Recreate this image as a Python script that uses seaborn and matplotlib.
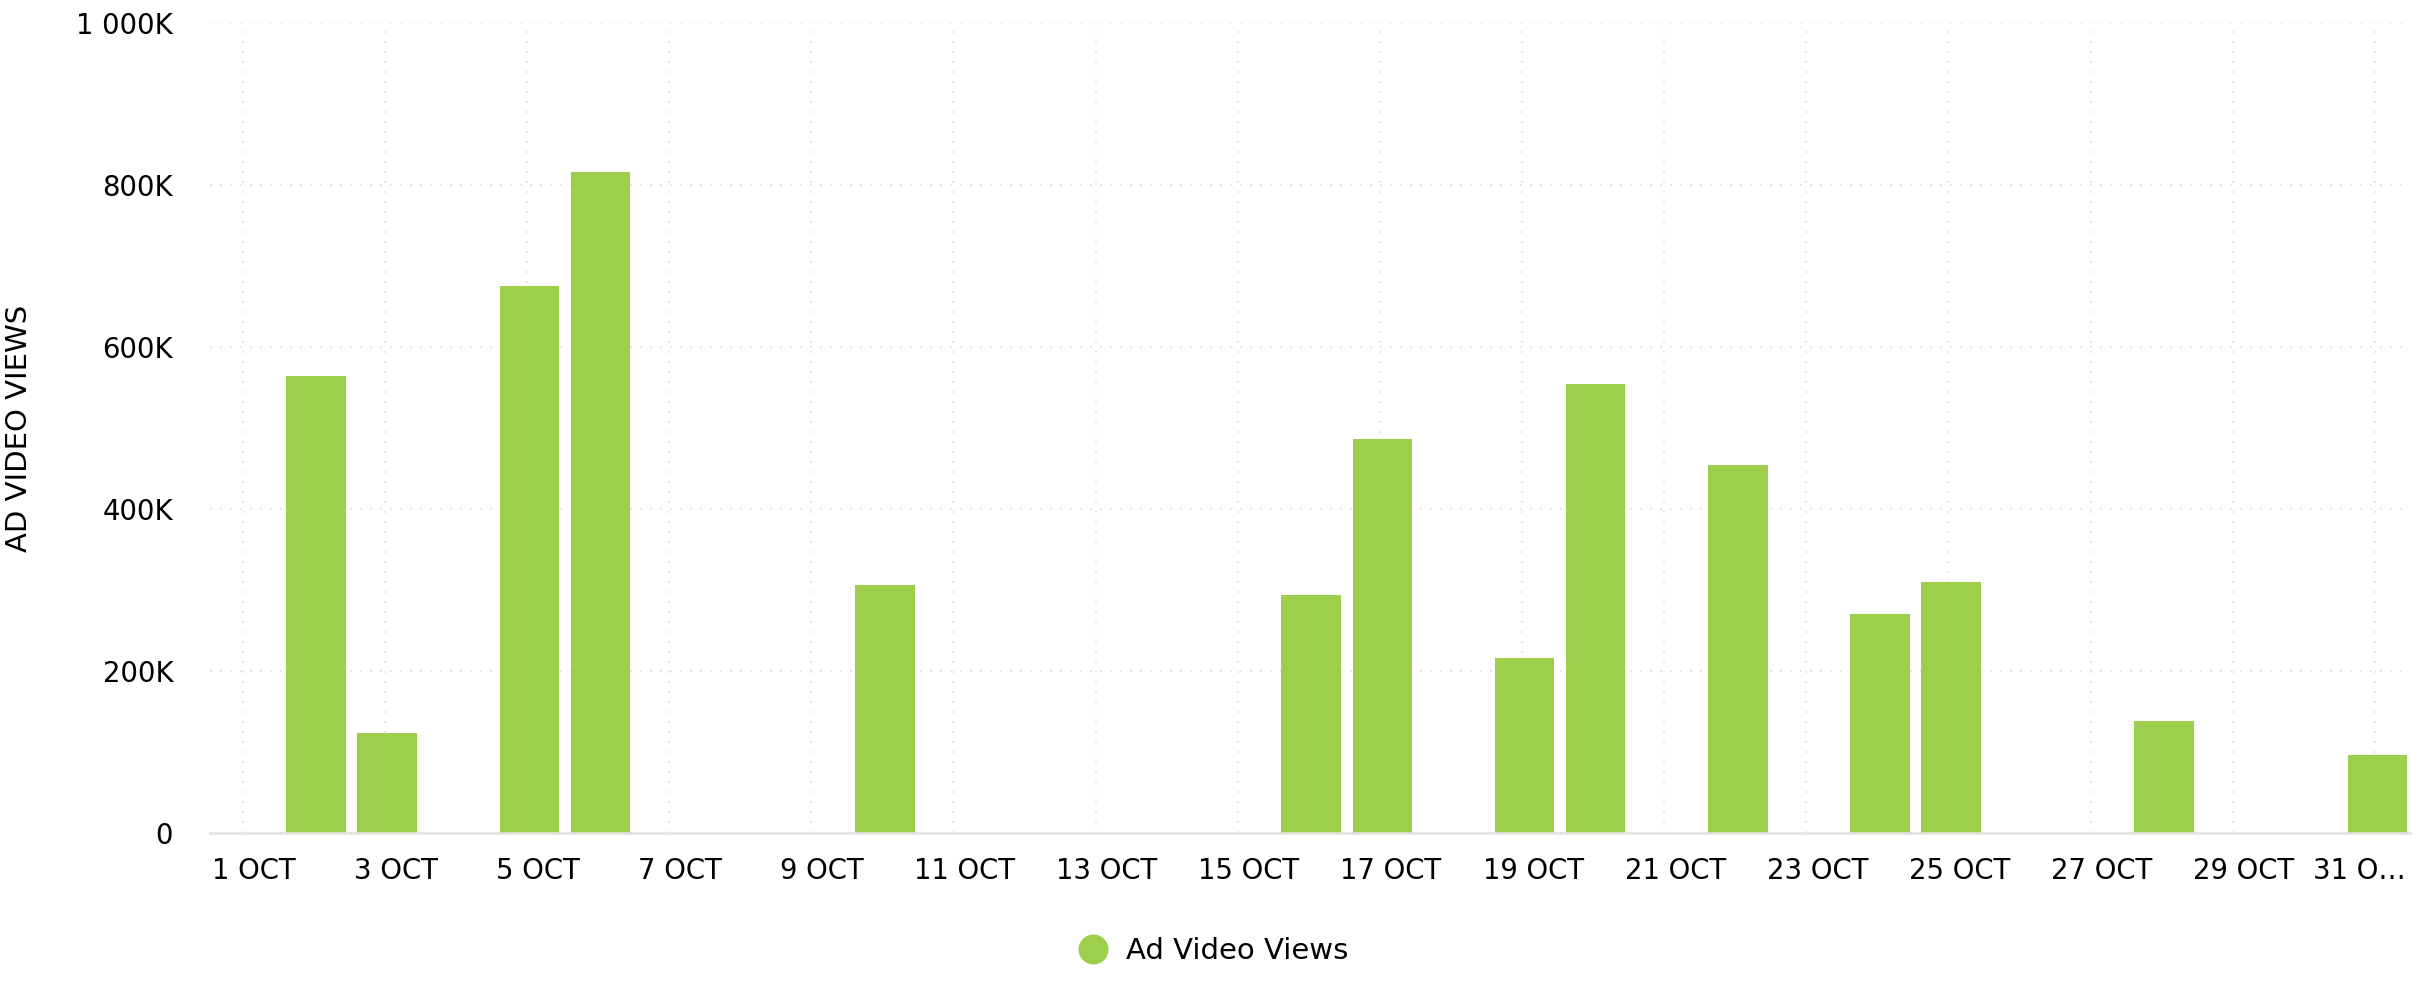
import pandas as pd
import matplotlib
matplotlib.use("Agg")
import matplotlib.pyplot as plt
import matplotlib.transforms as mtransforms
from matplotlib.lines import Line2D
from matplotlib.ticker import FuncFormatter
import seaborn as sns

# ===============================
# DATA
# ===============================
days = list(range(1, 32))
views_k = [0, 564, 124, 0, 675, 816, 0, 0, 0, 306,
           0, 0, 0, 0, 0, 294, 486, 0, 216, 554,
           0, 455, 0, 270, 310, 0, 0, 138, 0, 0, 96]
tick_days = list(range(1, 32, 2))
tick_labels = [f"{d} OCT" for d in tick_days[:-1]] + ["31 O…"]
y_ticks = [0, 200_000, 400_000, 600_000, 800_000, 1_000_000]

GREEN = "#9DCF4D"
GRID = "#e6e6e6"
AXIS = "#e2e2e2"

df = pd.DataFrame({
    "day": [f"{d} OCT" for d in days],
    "views": [v * 1000 for v in views_k],
})

# ===============================
# PLOT
# ===============================
sns.set_style("white")
plt.rcParams["font.family"] = ["DejaVu Sans"]

fig = plt.figure(figsize=(24.25, 10), dpi=100)
ax = fig.add_axes([0.0866, 0.167, 0.9074, 0.8097])

sns.barplot(data=df, x="day", y="views", color=GREEN, saturation=1,
            width=0.84, linewidth=0, ax=ax)

# bars sit a hair right of the day ticks in the reference
bar_shift = mtransforms.ScaledTranslation(2.5 / 100, 0, fig.dpi_scale_trans)
for p in ax.patches:
    p.set_transform(ax.transData + bar_shift)

ax.set_xlim(-0.46, 30.5)
ax.set_ylim(0, 1_000_000)
ax.set_yticks(y_ticks)
ax.yaxis.set_major_formatter(FuncFormatter(
    lambda v, _: "0" if v == 0 else f"{int(v / 1000):,}K".replace(",", " ")))
ax.set_xticks([d - 1 for d in tick_days])
ax.set_xticklabels(tick_labels)

ax.set_axisbelow(True)
ax.grid(True, axis="both", color=GRID, linestyle=(0, (1, 4)), linewidth=1.44)

for side in ["top", "right", "left"]:
    ax.spines[side].set_visible(False)
ax.spines["bottom"].set_color(AXIS)
ax.spines["bottom"].set_linewidth(1.8)

ax.tick_params(axis="x", length=8.6, width=1.44, color=AXIS, pad=9,
               labelsize=19.8, labelcolor="black")
ax.tick_params(axis="y", length=0, pad=26.5, labelsize=19.8, labelcolor="black")

# labels sit a little right of their ticks; last one is truncated at the edge
shift = mtransforms.ScaledTranslation(11 / 100, 0, fig.dpi_scale_trans)
for lbl in ax.get_xticklabels()[:-1]:
    lbl.set_transform(lbl.get_transform() + shift)
last = ax.get_xticklabels()[-1]
last.set_horizontalalignment("right")
last.set_transform(last.get_transform()
                   + mtransforms.ScaledTranslation(31 / 100, 0, fig.dpi_scale_trans))

ax.set_xlabel("")
ax.set_ylabel("AD VIDEO VIEWS", fontsize=21, color="black")
ax.yaxis.set_label_coords(-0.0804, 0.5)

handle = Line2D([], [], marker="o", linestyle="none", markersize=21.6,
                markerfacecolor=GREEN, markeredgewidth=0, label="Ad Video Views")
fig.legend(handles=[handle], loc="center", bbox_to_anchor=(0.5, 0.049),
           frameon=False, fontsize=21, handlelength=1.1, handletextpad=0.6,
           labelcolor="black")

fig.savefig("out.png", dpi=100)
